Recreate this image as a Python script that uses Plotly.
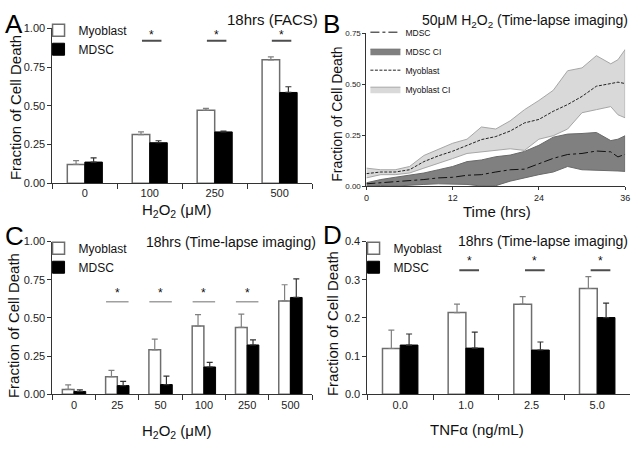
import plotly.graph_objects as go

FONT = "Arial, 'Liberation Sans', sans-serif"

# ---------------- Panel A: 18hrs (FACS) ----------------
a_categories = ["0", "100", "250", "500"]
a_myoblast = [0.121, 0.314, 0.471, 0.797]
a_myoblast_err = [0.025, 0.017, 0.012, 0.019]
a_mdsc = [0.136, 0.261, 0.331, 0.586]
a_mdsc_err = [0.027, 0.013, 0.006, 0.037]
a_significant = ["100", "250", "500"]

# ---------------- Panel B: 50uM H2O2 time-lapse ----------------
b_time = [0, 2, 4, 6, 8, 10, 12, 14, 16, 18, 20, 22, 24, 26, 28, 30, 32, 34, 35, 36]
b_myo_mean = [0.061, 0.069, 0.069, 0.080, 0.120, 0.148, 0.171, 0.200, 0.228, 0.243,
              0.270, 0.310, 0.327, 0.367, 0.400, 0.440, 0.490, 0.503, 0.510, 0.503]
b_myo_upper = [0.088, 0.080, 0.080, 0.096, 0.150, 0.180, 0.210, 0.230, 0.290, 0.280,
               0.320, 0.375, 0.420, 0.470, 0.566, 0.580, 0.640, 0.600, 0.620, 0.670]
b_myo_lower = [0.040, 0.056, 0.056, 0.064, 0.088, 0.110, 0.135, 0.160, 0.167, 0.175,
               0.183, 0.175, 0.230, 0.247, 0.280, 0.360, 0.375, 0.390, 0.350, 0.335]
b_mdsc_mean = [0.011, 0.016, 0.024, 0.027, 0.032, 0.040, 0.043, 0.053, 0.056, 0.069,
               0.080, 0.083, 0.110, 0.136, 0.155, 0.160, 0.172, 0.168, 0.143, 0.156]
b_mdsc_upper = [0.016, 0.032, 0.043, 0.053, 0.064, 0.080, 0.096, 0.120, 0.128, 0.144,
                0.152, 0.170, 0.200, 0.240, 0.255, 0.258, 0.263, 0.223, 0.230, 0.247]
b_mdsc_lower = [0.000, 0.003, 0.000, 0.003, 0.008, 0.011, 0.011, 0.008, 0.000, 0.002,
                0.024, 0.040, 0.056, 0.069, 0.096, 0.080, 0.080, 0.075, 0.074, 0.072]
b_time_ticks = [0, 12, 24, 36]

# ---------------- Panel C: 18hrs time-lapse, H2O2 ----------------
c_categories = ["0", "25", "50", "100", "250", "500"]
c_myoblast = [0.032, 0.115, 0.291, 0.447, 0.438, 0.611]
c_myoblast_err = [0.030, 0.042, 0.070, 0.074, 0.087, 0.106]
c_mdsc = [0.019, 0.057, 0.064, 0.179, 0.323, 0.634]
c_mdsc_err = [0.011, 0.028, 0.055, 0.030, 0.034, 0.121]
c_significant = ["25", "50", "100", "250"]

# ---------------- Panel D: 18hrs time-lapse, TNFa ----------------
d_categories = ["0.0", "1.0", "2.5", "5.0"]
d_myoblast = [0.120, 0.214, 0.236, 0.277]
d_myoblast_err = [0.048, 0.022, 0.020, 0.031]
d_mdsc = [0.129, 0.121, 0.116, 0.201]
d_mdsc_err = [0.029, 0.042, 0.021, 0.038]
d_significant = ["1.0", "2.5", "5.0"]

W, H = 640, 449


def px_x(x):
    return x / W


def px_y(y):
    return (H - y) / H


fig = go.Figure()


def add_bars(cats, myo, myo_err, mdsc, mdsc_err, xa, ya, legend):
    fig.add_trace(go.Bar(
        x=cats, y=myo, name="Myoblast", xaxis=xa, yaxis=ya, legend=legend,
        marker=dict(color="white", line=dict(color="#6e6e6e", width=1.5)),
        error_y=dict(type="data", array=myo_err, arrayminus=[0] * len(myo_err),
                     symmetric=False, color="#808080", thickness=1.2, width=3),
    ))
    fig.add_trace(go.Bar(
        x=cats, y=mdsc, name="MDSC", xaxis=xa, yaxis=ya, legend=legend,
        marker=dict(color="black", line=dict(color="black", width=1)),
        error_y=dict(type="data", array=mdsc_err, arrayminus=[0] * len(mdsc_err),
                     symmetric=False, color="#333333", thickness=1.2, width=3),
    ))


add_bars(a_categories, a_myoblast, a_myoblast_err, a_mdsc, a_mdsc_err, "x", "y", "legend")
add_bars(c_categories, c_myoblast, c_myoblast_err, c_mdsc, c_mdsc_err, "x3", "y3", "legend3")
add_bars(d_categories, d_myoblast, d_myoblast_err, d_mdsc, d_mdsc_err, "x4", "y4", "legend4")

# Panel B bands and lines
fig.add_trace(go.Scatter(
    x=b_time + b_time[::-1], y=b_myo_upper + b_myo_lower[::-1],
    fill="toself", fillcolor="#d9d9d9", mode="lines",
    line=dict(color="#a6a6a6", width=1), name="Myoblast CI",
    xaxis="x2", yaxis="y2", legend="legend2", legendrank=4, legendgroup="myo",
))
fig.add_trace(go.Scatter(
    x=b_time + b_time[::-1], y=b_mdsc_upper + b_mdsc_lower[::-1],
    fill="toself", fillcolor="#808080", mode="lines",
    line=dict(color="#6a6a6a", width=1), name="MDSC CI",
    xaxis="x2", yaxis="y2", legend="legend2", legendrank=2, legendgroup="mdsc",
))
fig.add_trace(go.Scatter(
    x=b_time, y=b_myo_mean, mode="lines", name="Myoblast",
    line=dict(color="#222222", width=1, dash="3px,1.5px"),
    xaxis="x2", yaxis="y2", legend="legend2", legendrank=3, legendgroup="myo",
))
fig.add_trace(go.Scatter(
    x=b_time, y=b_mdsc_mean, mode="lines", name="MDSC",
    line=dict(color="#111111", width=1, dash="dashdot"),
    xaxis="x2", yaxis="y2", legend="legend2", legendrank=1, legendgroup="mdsc",
))

axis_common = dict(showline=True, linecolor="#333333", linewidth=1, ticks="outside",
                   ticklen=4, tickcolor="#333333", showgrid=False, zeroline=False,
                   tickfont=dict(family=FONT, size=11, color="#222222"))

layout = dict(
    width=W, height=H, margin=dict(l=0, r=0, t=0, b=0),
    paper_bgcolor="white", plot_bgcolor="white",
    barmode="group", bargap=0.46, bargroupgap=0,
    font=dict(family=FONT, color="#111111"),
    xaxis=dict(axis_common, domain=[px_x(50), px_x(313)], anchor="y", type="category",
               range=[-0.5, 3.5], tickson="boundaries", ticklen=5),
    yaxis=dict(axis_common, domain=[px_y(182), px_y(23)], anchor="x", range=[0, 1],
               tickvals=[0, 0.25, 0.5, 0.75, 1.0], tickformat=".2f"),
    xaxis2=dict(axis_common, domain=[px_x(368), px_x(630)], anchor="y2",
                range=[0, 36], tickvals=b_time_ticks, ticklen=3,
                tickfont=dict(family=FONT, size=9, color="#222222")),
    yaxis2=dict(axis_common, domain=[px_y(185), px_y(28)], anchor="x2", range=[0, 0.75],
                tickvals=[0, 0.25, 0.5, 0.75], tickformat=".2f", ticklen=3,
                tickfont=dict(family=FONT, size=8, color="#222222")),
    xaxis3=dict(axis_common, domain=[px_x(50), px_x(313)], anchor="y3", type="category",
                range=[-0.5, 5.5], tickson="boundaries", ticklen=5),
    yaxis3=dict(axis_common, domain=[px_y(399), px_y(242)], anchor="x3", range=[0, 1],
                tickvals=[0, 0.25, 0.5, 0.75, 1.0], tickformat=".2f"),
    xaxis4=dict(axis_common, domain=[px_x(369), px_x(635)], anchor="y4", type="category",
                range=[-0.5, 3.5], tickson="boundaries", ticklen=5),
    yaxis4=dict(axis_common, domain=[px_y(399), px_y(242)], anchor="x4", range=[0, 0.4],
                tickvals=[0, 0.1, 0.2, 0.3, 0.4], tickformat=".1f"),
    legend=dict(x=px_x(36), y=px_y(10), xanchor="left", yanchor="top",
                bgcolor="rgba(0,0,0,0)", font=dict(family=FONT, size=12), tracegroupgap=0),
    legend2=dict(x=px_x(367), y=px_y(12), xanchor="left", yanchor="top",
                 bgcolor="rgba(0,0,0,0)", font=dict(family=FONT, size=8.5),
                 traceorder="normal", tracegroupgap=2),
    legend3=dict(x=px_x(36), y=px_y(234), xanchor="left", yanchor="top",
                 bgcolor="rgba(0,0,0,0)", font=dict(family=FONT, size=12), tracegroupgap=0),
    legend4=dict(x=px_x(355), y=px_y(234), xanchor="left", yanchor="top",
                 bgcolor="rgba(0,0,0,0)", font=dict(family=FONT, size=12), tracegroupgap=0),
)
fig.update_layout(**layout)

shapes = []
annotations = []


def add_sig(cats, sig, xa, ya, y_line, y_star, x0off, x1off, color, width):
    for c in sig:
        i = cats.index(c)
        shapes.append(dict(type="line", xref=xa, yref=ya, x0=i + x0off, x1=i + x1off,
                           y0=y_line, y1=y_line, line=dict(color=color, width=width)))
        annotations.append(dict(text="*", xref=xa, yref=ya, x=i + (x0off + x1off) / 2,
                                y=y_star, showarrow=False,
                                font=dict(family=FONT, size=12, color="#111111")))


add_sig(a_categories, a_significant, "x", "y", 0.92, 0.958, -0.12, 0.18, "#4d4d4d", 2)
add_sig(c_categories, c_significant, "x3", "y3", 0.606, 0.665, -0.26, 0.26, "#a0a0a0", 1.5)
add_sig(d_categories, d_significant, "x4", "y4", 0.325, 0.35, -0.10, 0.20, "#4d4d4d", 2)


def paper_text(text, x, y, size, xanchor="center", yanchor="middle", angle=0, color="#111111"):
    annotations.append(dict(text=text, xref="paper", yref="paper", x=px_x(x), y=px_y(y),
                            xanchor=xanchor, yanchor=yanchor, showarrow=False, textangle=angle,
                            font=dict(family=FONT, size=size, color=color)))


# Panel letters
paper_text("A", 0, 19, 26, xanchor="left", color="black")
paper_text("B", 322, 19, 26, xanchor="left", color="black")
paper_text("C", 0, 236, 26, xanchor="left", color="black")
paper_text("D", 322, 235, 26, xanchor="left", color="black")

# Panel titles
paper_text("18hrs (FACS)", 225, 14, 15, xanchor="left")
paper_text("50μM H<sub>2</sub>O<sub>2</sub> (Time-lapse imaging)", 635, 15, 14, xanchor="right")
paper_text("18hrs (Time-lapse imaging)", 143, 242, 14, xanchor="left")
paper_text("18hrs (Time-lapse imaging)", 635, 241, 14, xanchor="right")

# Axis titles
ytxt = "Fraction of Cell Death"
paper_text(ytxt, 12, 104, 15, angle=-90)
paper_text(ytxt, 338, 111, 14, angle=-90)
paper_text(ytxt, 10, 328, 15, angle=-90)
paper_text(ytxt, 333, 326, 15, angle=-90)
paper_text("H<sub>2</sub>O<sub>2</sub> (μM)", 176, 210, 15)
paper_text("Time (hrs)", 500, 211, 15)
paper_text("H<sub>2</sub>O<sub>2</sub> (μM)", 176, 437, 15)
paper_text("TNFα (ng/mL)", 480, 435, 15)

fig.update_layout(shapes=shapes, annotations=annotations)

fig.write_html("out.html", config={"displayModeBar": False},
               post_script="document.body.style.margin='0px';")
